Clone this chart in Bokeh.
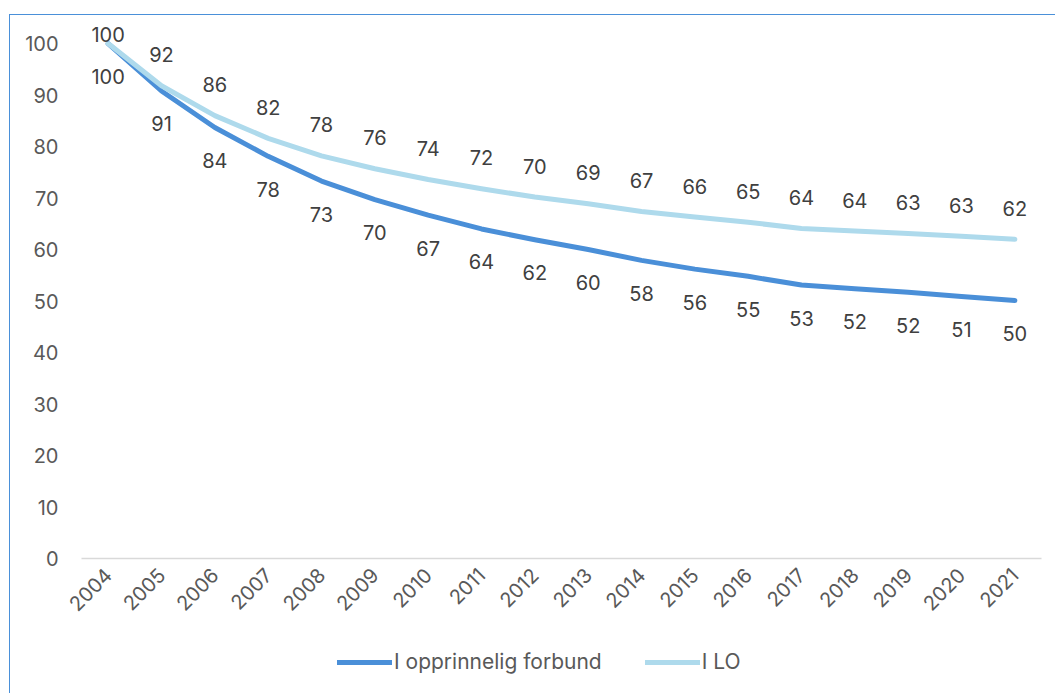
import math
from bokeh.plotting import figure
from bokeh.layouts import column
from bokeh.models import (ColumnDataSource, FixedTicker, Legend, LegendItem,
                          FactorRange, Range1d)
from bokeh.core.properties import value
from bokeh.embed import file_html
from bokeh.resources import INLINE

years = ["2004", "2005", "2006", "2007", "2008", "2009", "2010", "2011", "2012",
         "2013", "2014", "2015", "2016", "2017", "2018", "2019", "2020", "2021"]
forbund = [100, 90.8, 83.7, 78.1, 73.3, 69.7, 66.7, 64.0, 61.9, 60.0,
           57.9, 56.2, 54.8, 53.1, 52.4, 51.7, 50.9, 50.1]
i_lo = [100, 91.8, 86.0, 81.6, 78.2, 75.7, 73.6, 71.8, 70.2, 68.9,
        67.4, 66.3, 65.3, 64.1, 63.6, 63.1, 62.6, 62.0]
yticks = [0, 10, 20, 30, 40, 50, 60, 70, 80, 90, 100]
series_names = ["I opprinnelig forbund", "I LO"]

DARK = "#4A8FD8"
LIGHT = "#AEDAEC"
FONT = "Inter"

lo_off = [-31] * len(years)
lo_off[0] = -9
src = ColumnDataSource(dict(
    year=years, forbund=forbund, lo=i_lo,
    forbund_lbl=[str(round(v)) for v in forbund], lo_lbl=[str(round(v)) for v in i_lo],
    f_off=[33] * len(years), lo_off=lo_off,
))

p = figure(x_range=FactorRange(factors=years, range_padding=0),
           y_range=Range1d(0, 103.9),
           width=1046, height=616, output_backend="svg", toolbar_location=None,
           min_border_left=71, min_border_right=15, min_border_top=8, min_border_bottom=73)

p.xgrid.visible = False
p.ygrid.visible = False
p.outline_line_color = None

p.yaxis.ticker = FixedTicker(ticks=yticks)
p.yaxis.axis_line_color = None
p.yaxis.major_tick_line_color = None
p.yaxis.minor_tick_line_color = None
p.yaxis.major_label_text_font = FONT
p.yaxis.major_label_text_font_size = "20px"
p.yaxis.major_label_text_color = "#595959"
p.yaxis.major_label_standoff = 17

p.xaxis.axis_line_color = "#D9D9D9"
p.xaxis.axis_line_width = 1.5
p.xaxis.major_tick_line_color = None
p.xaxis.minor_tick_line_color = None
p.xaxis.major_label_orientation = math.pi / 4
p.xaxis.major_label_text_font = FONT
p.xaxis.major_label_text_font_size = "20px"
p.xaxis.major_label_text_color = "#595959"
p.xaxis.major_label_standoff = 7

p.line(x="year", y="forbund", source=src, line_width=5, line_color=DARK,
       line_cap="round", line_join="round")
p.line(x="year", y="lo", source=src, line_width=5, line_color=LIGHT,
       line_cap="round", line_join="round")

p.text(x="year", y="forbund", text="forbund_lbl", y_offset="f_off", source=src,
       text_align="center", text_baseline="middle", text_font=value(FONT),
       text_font_size="20px", text_color="#404040")
p.text(x="year", y="lo", text="lo_lbl", y_offset="lo_off", source=src,
       text_align="center", text_baseline="middle", text_font=value(FONT),
       text_font_size="20px", text_color="#404040")

# legend strip below the chart (renderers carry no visible data)
lf = figure(width=1046, height=63, output_backend="svg", toolbar_location=None,
            x_axis_type=None, y_axis_type=None,
            x_range=Range1d(0, 1), y_range=Range1d(0, 1),
            min_border_left=0, min_border_right=0, min_border_top=0, min_border_bottom=0)
lf.grid.visible = False
lf.outline_line_color = None
nan = float("nan")
d1 = lf.line(x=[nan], y=[nan], line_width=5, line_color=DARK, line_cap="round")
d2 = lf.line(x=[nan], y=[nan], line_width=5, line_color=LIGHT, line_cap="round")
legend = Legend(items=[LegendItem(label=series_names[0], renderers=[d1]),
                       LegendItem(label=series_names[1], renderers=[d2])],
                location=(256, 20), orientation="horizontal",
                glyph_width=55, glyph_height=20, label_standoff=2, spacing=43,
                padding=0, margin=0, border_line_color=None, background_fill_alpha=0,
                label_text_font=FONT, label_text_font_size="21px",
                label_text_color="#595959")
lf.add_layout(legend)

layout = column(p, lf, spacing=0)
layout.margin = (14, 0, 0, 9)
layout.styles = {"border-top": "1.5px solid #4A90D9", "border-left": "1.5px solid #4A90D9"}

open("out.html", "w").write(file_html(layout, INLINE))
